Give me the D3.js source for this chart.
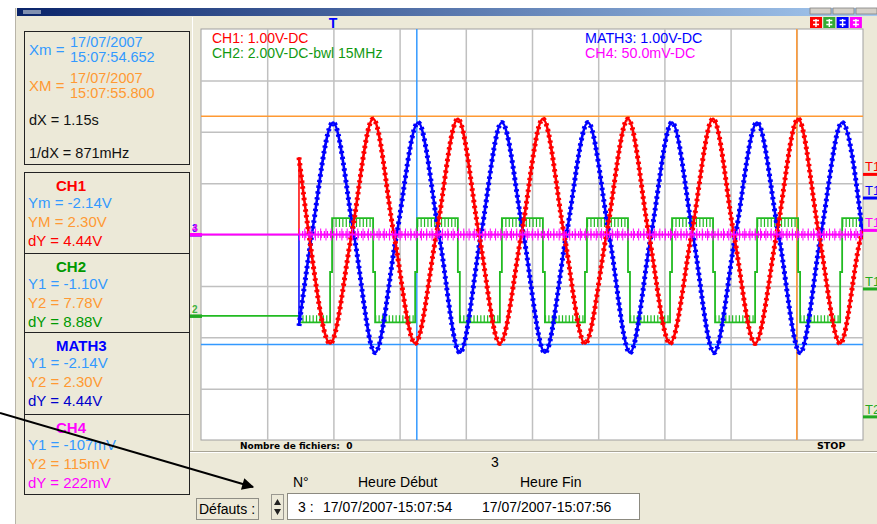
<!DOCTYPE html>
<meta charset="utf-8">
<head>
<style>
body { margin: 0; background: #fff; }
svg { display: block; font-family: "Liberation Sans", Arial, sans-serif; }
.grid line { stroke: #c0c0c0; stroke-width: 1.5; }
.grid path, .grid text { display: none; }
.trace { fill: none; }
</style>
</head>
<body>
<svg width="877" height="524"></svg>
<script src="https://d3js.org/d3.v7.min.js"></script>
<script>

// ---- data (time in s, 0.2 s/div) ----
var acqStart = 0.296;

// CH1 (V): start, then zero crossings / troughs / peaks
var ch1 = [[0.296, 1.50], [0.326, 0], [0.390, -2.12], [0.455, 0], [0.520, 2.25], [0.583, 0],
  [0.647, -2.12], [0.711, 0], [0.776, 2.25], [0.840, 0], [0.903, -2.12], [0.968, 0],
  [1.033, 2.25], [1.097, 0], [1.160, -2.12], [1.225, 0], [1.290, 2.25], [1.353, 0],
  [1.417, -2.12], [1.482, 0], [1.547, 2.25], [1.610, 0], [1.674, -2.12], [1.739, 0],
  [1.804, 2.25], [1.867, 0], [1.931, -2.12], [1.996, 0], [2.0, 0.07]];

// MATH3 (V)
var math3 = [[0.296, -1.78], [0.335, 0], [0.399, 2.18], [0.462, 0], [0.526, -2.30], [0.591, 0],
  [0.656, 2.18], [0.719, 0], [0.782, -2.30], [0.846, 0], [0.909, 2.18], [0.974, 0],
  [1.039, -2.30], [1.104, 0], [1.169, 2.18], [1.233, 0], [1.296, -2.30], [1.360, 0],
  [1.423, 2.18], [1.486, 0], [1.550, -2.30], [1.615, 0], [1.680, 2.18], [1.745, 0],
  [1.810, -2.30], [1.873, 0], [1.937, 2.18], [2.0, -0.05]];

// CH2 (V), held until next point
var ch2 = [[0, 0], [0.296, -0.25], [0.390, 1.71], [0.396, 3.81], [0.520, 1.71], [0.526, -0.25],
  [0.647, 1.71], [0.653, 3.81], [0.776, 1.71], [0.782, -0.25], [0.903, 1.71], [0.909, 3.81],
  [1.033, 1.71], [1.039, -0.25], [1.160, 1.71], [1.166, 3.81], [1.290, 1.71], [1.296, -0.25],
  [1.417, 1.71], [1.423, 3.81], [1.547, 1.71], [1.553, -0.25], [1.674, 1.71], [1.680, 3.81],
  [1.804, 1.71], [1.810, -0.25], [1.931, 1.71], [1.937, 3.81], [2.0, 3.81]];

// CH4 (mV)
var ch4 = [[0, 0], [0.296, 0], [2.0, 0]];

var cursorX = [0.652, 1.800];     // Xm, XM
var cursorY = [-2.14, 2.30];      // Ym, YM (CH1 units)
var triggerT = 0.399;

var headerLeft = ["CH1: 1.00V-DC", "CH2: 2.00V-DC-bwl 15MHz"];
var headerRight = ["MATH3: 1.00V-DC", "CH4: 50.0mV-DC"];

var xCursorInfo = [
  ["Xm =", "17/07/2007", "15:07:54.652"],
  ["XM =", "17/07/2007", "15:07:55.800"]
];
var dxInfo = ["dX = 1.15s", "1/dX = 871mHz"];

var chanNames = ["CH1", "CH2", "MATH3", "CH4"];
var chanRows = [
  ["Ym = -2.14V", "YM = 2.30V", "dY = 4.44V"],
  ["Y1 = -1.10V", "Y2 = 7.78V", "dY = 8.88V"],
  ["Y1 = -2.14V", "Y2 = 2.30V", "dY = 4.44V"],
  ["Y1 = -107mV", "Y2 = 115mV", "dY = 222mV"]
];

var rightTags = ["T1", "T1", "T1", "T1", "T2"];
var rightTagLevels = [1.17, 0.71, 0.08, -1.06, -3.55]; // CH1 units

var fileCount = "Nombre de fichiers:  0";
var colHeads = ["N°", "Heure Début", "Heure Fin"];
var fileRow = ["3 :", "17/07/2007-15:07:54", "17/07/2007-15:07:56"];

// ---- drawing ----
var svg = d3.select("svg");
var BEIGE = "#ece9d8", LBLUE = "#3399ff", ORANGE = "#ff9933";
var chanCol = ["#ff0000", "#009900", "#0000ff", "#ff00ff"];

var defs = svg.append("defs");
var grad = defs.append("linearGradient").attr("id", "tb");
grad.append("stop").attr("offset", "0%").attr("stop-color", "#0a246a");
grad.append("stop").attr("offset", "100%").attr("stop-color", "#a6caf0");
defs.append("clipPath").attr("id", "plotclip")
  .append("rect").attr("x", 201).attr("y", 29).attr("width", 662).attr("height", 411);
defs.append("marker").attr("id", "arr").attr("viewBox", "0 0 10 10")
  .attr("refX", 9).attr("refY", 5).attr("markerWidth", 7).attr("markerHeight", 6)
  .attr("orient", "auto").attr("markerUnits", "strokeWidth")
  .append("path").attr("d", "M0,0L10,5L0,10z").attr("fill", "#000");

// window
svg.append("rect").attr("x", 15).attr("y", 8).attr("width", 862).attr("height", 516).attr("fill", BEIGE);
svg.append("line").attr("x1", 15.5).attr("x2", 15.5).attr("y1", 8).attr("y2", 524).attr("stroke", "#b8b4a8");
svg.append("rect").attr("x", 17).attr("y", 8).attr("width", 860).attr("height", 8).attr("fill", "url(#tb)");
svg.append("rect").attr("x", 23).attr("y", 10).attr("width", 18).attr("height", 4).attr("fill", "#8090b0");
[810, 833, 856].forEach(function(bx) {
  svg.append("rect").attr("x", bx).attr("y", 8).attr("width", 21).attr("height", 6)
    .attr("fill", "#d4d0c8").attr("stroke", "#808080").attr("stroke-width", 0.8);
});

// plot
var x = d3.scaleLinear().domain([0, 2]).range([201, 863]);
var y1 = d3.scaleLinear().domain([-4, 4]).range([440, 29]);          // 1 V/div
var y2 = d3.scaleLinear().domain([-4.83, 11.17]).range([440, 29]);   // 2 V/div
var y4 = d3.scaleLinear().domain([-200, 200]).range([440, 29]);      // 50 mV/div

svg.append("rect").attr("x", 201).attr("y", 29).attr("width", 662).attr("height", 411)
  .attr("fill", "#fff").attr("stroke", "#a0a0a0");
svg.append("line").attr("x1", 192.5).attr("x2", 192.5).attr("y1", 17).attr("y2", 450).attr("stroke", "#fff");

svg.append("g").attr("class", "grid").attr("transform", "translate(0,440)")
  .call(d3.axisBottom(x).tickValues(d3.range(1, 10).map(function(i) { return i * 0.2; }))
    .tickSize(-411).tickFormat(""));
svg.append("g").attr("class", "grid").attr("transform", "translate(201,0)")
  .call(d3.axisLeft(y1).tickValues(d3.range(-3, 4)).tickSize(-662).tickFormat(""));

var plot = svg.append("g").attr("clip-path", "url(#plotclip)");

// cursors
plot.append("line").attr("x1", 201).attr("x2", 863).attr("y1", y1(cursorY[1])).attr("y2", y1(cursorY[1]))
  .attr("stroke", ORANGE).attr("stroke-width", 1.5);
plot.append("line").attr("x1", 201).attr("x2", 863).attr("y1", y1(cursorY[0])).attr("y2", y1(cursorY[0]))
  .attr("stroke", LBLUE).attr("stroke-width", 1.5);
plot.append("line").attr("x1", x(cursorX[0])).attr("x2", x(cursorX[0])).attr("y1", 29).attr("y2", 440)
  .attr("stroke", LBLUE).attr("stroke-width", 1.5);
plot.append("line").attr("x1", x(cursorX[1])).attr("x2", x(cursorX[1])).attr("y1", 29).attr("y2", 440)
  .attr("stroke", ORANGE).attr("stroke-width", 1.5);

// CH2 square wave
var stepLine = d3.line().x(function(d) { return x(d[0]); }).y(function(d) { return y2(d[1]); })
  .curve(d3.curveStepAfter);
plot.append("path").attr("class", "trace").attr("d", stepLine(ch2))
  .attr("stroke", "#22bb22").attr("stroke-width", 1.8);
// ripple comb on flat levels
ch2.forEach(function(d, i) {
  if (i === 0 || i === ch2.length - 1 || d[0] < acqStart) return;
  var v = d[1], off;
  if (v > 3) off = 4.5; else if (v < 0) off = -3.5; else return;
  var yy = y2(v) + off;
  plot.append("line").attr("x1", x(d[0])).attr("x2", x(ch2[i + 1][0])).attr("y1", yy).attr("y2", yy)
    .attr("stroke", "#22bb22").attr("stroke-width", v > 3 ? 9 : 7).attr("stroke-dasharray", "1.2 2.2");
});

// sine traces with staircase spurs
function sineTrace(data, color) {
  var line = d3.line().x(function(d) { return x(d[0]); }).y(function(d) { return y1(d[1]); })
    .curve(d3.curveMonotoneX);
  var lead = d3.line().x(function(d) { return x(d[0]); }).y(function(d) { return y1(d[1]); });
  plot.append("path").attr("class", "trace")
    .attr("d", lead([[acqStart, 0], data[0]])).attr("stroke", color).attr("stroke-width", 1.5);
  plot.append("path").attr("class", "trace").attr("d", line(data))
    .attr("stroke", color).attr("stroke-width", 2.6);
  plot.append("path").attr("class", "trace").attr("d", line(data))
    .attr("stroke", color).attr("stroke-width", 5).attr("stroke-dasharray", "2.4 3.4");
}
sineTrace(math3, "#0000ff");
sineTrace(ch1, "#ff0000");

// CH4
var l4 = d3.line().x(function(d) { return x(d[0]); }).y(function(d) { return y4(d[1]); });
plot.append("path").attr("class", "trace").attr("d", l4(ch4)).attr("stroke", "#ff00ff").attr("stroke-width", 2);
var ch4Noise = ch4.filter(function(d) { return d[0] >= acqStart; });
plot.append("path").attr("class", "trace").attr("d", l4(ch4Noise))
  .attr("stroke", "#ff00ff").attr("stroke-width", 12).attr("stroke-dasharray", "1 4.3");
plot.append("path").attr("class", "trace").attr("d", l4(ch4Noise))
  .attr("stroke", "#ff00ff").attr("stroke-width", 7).attr("stroke-dasharray", "1.2 1.9");

// plot headers
var hdrCols = [chanCol[0], "#119911"];
headerLeft.forEach(function(t, i) {
  svg.append("text").attr("x", 212).attr("y", 43 + i * 15).attr("font-size", 14)
    .attr("fill", hdrCols[i]).text(t);
});
var hdrCols2 = ["#0000ff", "#ff00ff"];
headerRight.forEach(function(t, i) {
  svg.append("text").attr("x", 585).attr("y", 43 + i * 15).attr("font-size", 14.3)
    .attr("fill", hdrCols2[i]).text(t);
});

// trigger T
svg.append("text").attr("x", x(triggerT)).attr("y", 28).attr("text-anchor", "middle")
  .attr("font-size", 14).attr("font-weight", "bold").attr("fill", "#0000ff").text("T");

// channel reference markers (left)
var refMarks = [
  { y: y4(0), lab: "3", col: "#0000ff" },
  { y: y4(0), lab: "4", col: "#ff00ff" },
  { y: y2(0), lab: "2", col: "#22aa22" }
];
refMarks.forEach(function(m) {
  svg.append("rect").attr("x", 190).attr("y", m.y - 1.5).attr("width", 12).attr("height", 3.5).attr("fill", m.col);
  svg.append("text").attr("x", 192).attr("y", m.y - 3).attr("font-size", 10).attr("font-weight", "bold")
    .attr("fill", m.col).attr("opacity", 0.85).text(m.lab);
});
// right trigger level tags
var tagCols = ["#ff0000", "#0000ff", "#ff00ff", "#22aa22", "#22aa22"];
rightTags.forEach(function(t, i) {
  var yy = y1(rightTagLevels[i]);
  svg.append("rect").attr("x", 863).attr("y", yy - 1.5).attr("width", 14).attr("height", 3).attr("fill", tagCols[i]);
  svg.append("text").attr("x", 865).attr("y", yy - 3).attr("font-size", 13).attr("fill", tagCols[i]).text(t);
});

// top-right channel buttons
chanCol.forEach(function(c, i) {
  var bx = 810 + i * 13.3;
  svg.append("rect").attr("x", bx).attr("y", 17).attr("width", 12).attr("height", 11).attr("fill", c === "#009900" ? "#33aa33" : c);
  svg.append("path").attr("d", "M" + (bx + 3) + ",20.5h6M" + (bx + 3) + ",24.5h6M" + (bx + 6) + ",19v8")
    .attr("stroke", "#fff").attr("stroke-width", 1.4);
});

// below plot
svg.append("text").attr("x", 240).attr("y", 449).attr("font-family", "DejaVu Sans").attr("font-size", 9)
  .attr("font-weight", "bold").attr("xml:space", "preserve").text(fileCount);
svg.append("text").attr("x", 817).attr("y", 449).attr("font-family", "DejaVu Sans").attr("font-size", 9.5)
  .attr("font-weight", "bold").text("STOP");
svg.append("line").attr("x1", 190).attr("x2", 877).attr("y1", 451.5).attr("y2", 451.5).attr("stroke", "#a8a496");
svg.append("line").attr("x1", 190).attr("x2", 877).attr("y1", 452.5).attr("y2", 452.5).attr("stroke", "#fff");
svg.append("text").attr("x", 495).attr("y", 467).attr("font-size", 14).attr("text-anchor", "middle").text("3");
[293, 358, 520].forEach(function(cx, i) {
  svg.append("text").attr("x", cx).attr("y", 487).attr("font-size", 14).text(colHeads[i]);
});
svg.append("rect").attr("x", 287.5).attr("y", 493.5).attr("width", 352).attr("height", 26)
  .attr("fill", "#fff").attr("stroke", "#8c8a80");
[298, 323, 482].forEach(function(cx, i) {
  svg.append("text").attr("x", cx).attr("y", 512).attr("font-size", 14).text(fileRow[i]);
});
svg.append("rect").attr("x", 196.5).attr("y", 498.5).attr("width", 62).attr("height", 21)
  .attr("fill", "none").attr("stroke", "#333").attr("stroke-dasharray", "1 1");
svg.append("text").attr("x", 199).attr("y", 514).attr("font-size", 14).text("Défauts :");
svg.append("rect").attr("x", 271.5).attr("y", 494.5).attr("width", 12).attr("height", 25)
  .attr("fill", BEIGE).attr("stroke", "#9a9890");
svg.append("path").attr("d", "M274,505L277.5,499L281,505zM274,509L277.5,515L281,509z").attr("fill", "#222");

// left info panel
var panel = svg.append("g");
panel.append("rect").attr("x", 24.5).attr("y", 31.5).attr("width", 165).attr("height", 133)
  .attr("fill", "none").attr("stroke", "#222");
var xCols = [LBLUE, ORANGE];
xCursorInfo.forEach(function(r, i) {
  var by = 47 + i * 36;
  panel.append("text").attr("x", 29).attr("y", by + 7.5).attr("font-size", 15).attr("fill", xCols[i]).text(r[0]);
  panel.append("text").attr("x", 70).attr("y", by).attr("font-size", 14.5).attr("fill", xCols[i]).text(r[1]);
  panel.append("text").attr("x", 70).attr("y", by + 14.5).attr("font-size", 14.5).attr("fill", xCols[i]).text(r[2]);
});
dxInfo.forEach(function(t, i) {
  panel.append("text").attr("x", 29).attr("y", 125 + i * 33).attr("font-size", 14.5).attr("fill", "#111").text(t);
});

var blockTops = [172, 253, 332, 414, 494];
panel.append("rect").attr("x", 24.5).attr("y", blockTops[0] + 0.5).attr("width", 165)
  .attr("height", blockTops[4] - blockTops[0]).attr("fill", "none").attr("stroke", "#222");
var dyCols = ["#ff0000", "#009900", "#0000cc", "#ff00ff"];
chanNames.forEach(function(n, i) {
  var top = blockTops[i];
  if (i > 0) panel.append("line").attr("x1", 24.5).attr("x2", 189.5).attr("y1", top + 0.5).attr("y2", top + 0.5).attr("stroke", "#222");
  panel.append("text").attr("x", 56).attr("y", top + 19).attr("font-size", 15).attr("font-weight", "bold")
    .attr("fill", chanCol[i]).text(n);
  var rc = [LBLUE, ORANGE, dyCols[i]];
  chanRows[i].forEach(function(t, j) {
    panel.append("text").attr("x", 28).attr("y", top + 36 + j * 19).attr("font-size", 15).attr("fill", rc[j]).text(t);
  });
});

// pointer arrow
svg.append("line").attr("x1", 0).attr("y1", 413).attr("x2", 253).attr("y2", 487)
  .attr("stroke", "#000").attr("stroke-width", 2).attr("marker-end", "url(#arr)");

</script>
</body>
</html>
